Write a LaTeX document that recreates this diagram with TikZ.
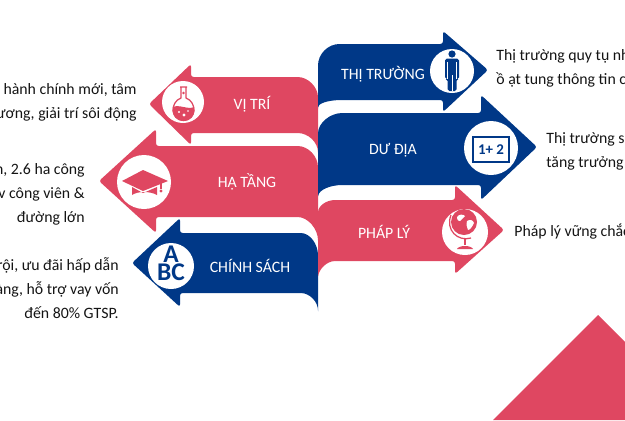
\documentclass[tikz,border=0pt]{standalone}
\usepackage{fontspec}
\setmainfont{Carlito}
\definecolor{rosered}{RGB}{223,71,97}
\definecolor{deepblue}{RGB}{0,56,135}
\tikzset{
  rosearrow/.style={fill=rosered,rounded corners=1.5pt},
  bluearrow/.style={fill=deepblue,rounded corners=1.5pt},
  caption/.style={text=white,font=\fontsize{9}{11}\selectfont,inner sep=0pt},
  bodytext/.style={text=black!92,font=\fontsize{9}{13.6}\selectfont,inner sep=0pt},
  iconletter/.style={text=deepblue,font=\bfseries\fontsize{14.5}{10.4}\selectfont,inner sep=0pt},
}
\begin{document}
\begin{tikzpicture}[x=0.02cm,y=-0.02cm]
  \useasboundingbox (0,0) rectangle (625,420);
  % corner triangle
  \fill[rosered] (598,315) -- (625,342) -- (625,420) -- (493,420) -- cycle;
  % arrows pointing left
  \fill[rosearrow] (318,155) .. controls (318,142) and (308,133) .. (295,133) -- (191,133) -- (191,145)
     -- (149,104) -- (191,64) -- (191,77) -- (295,77) .. controls (308,77) and (318,87) .. (318,100) -- cycle;
  \fill[rosearrow] (318,243) .. controls (318,229) and (308,217) .. (295,217) -- (156,217) -- (156,233)
     -- (99,181) -- (156,129) -- (156,146) -- (295,146) .. controls (308,146) and (318,156) .. (318,170) -- cycle;
  \fill[bluearrow] (318,313) .. controls (318,302) and (310,293) .. (298,293) -- (180,293) -- (180,307)
     -- (132,263) -- (180,218) -- (180,233) -- (298,233) .. controls (310,233) and (318,244) .. (318,258) -- cycle;
  % arrows pointing right
  \fill[bluearrow] (318,110) .. controls (318,104) and (326,100) .. (345,100) -- (443,100) -- (443,112)
     -- (488,70) -- (443,31) -- (443,44) -- (342,44) .. controls (328,44) and (318,54) .. (318,68) -- cycle;
  \fill[bluearrow] (318,198) .. controls (319,190) and (330,185) .. (345,185) -- (481,185) -- (481,200)
     -- (537,147) -- (481,95) -- (481,113) -- (345,113) .. controls (330,113) and (318,123) .. (318,136) -- cycle;
  \fill[rosearrow] (318,278) .. controls (319,270) and (326,261) .. (338,261) -- (455,261) -- (455,274)
     -- (504,230) -- (455,185) -- (455,200) -- (338,200) .. controls (326,200) and (318,206) .. (318,215) -- cycle;
  % white discs
  \fill[white] (183,102) circle[radius=21];
  \fill[white] (144,182) circle[radius=27];
  \fill[white] (171,266) circle[radius=23];
  \fill[white] (452,71) circle[radius=22];
  \fill[white] (491,148) circle[radius=27];
  \fill[white] (465,232) circle[radius=23];
  % flask
  \draw[rosered,line width=0.7pt] (180,87) -- (187,87) (181,87) -- (181,98)
     .. controls (170,102) and (170,120) .. (183.5,120.5) .. controls (197,120) and (197,102) .. (186,98) -- (186,87);
  \fill[rosered] (173,107) .. controls (179,104) and (188,110) .. (194,107)
     .. controls (196,114) and (191,121) .. (183.5,121) .. controls (176,121) and (171,114) .. (173,107) -- cycle;
  \fill[rosered] (183.5,93) circle[radius=1.3];
  \fill[white] (179,112) circle[radius=1.2] (184,115) circle[radius=1.6] (188,111) circle[radius=0.9];
  % graduation cap
  \fill[rosered] (122,181) -- (143,170) -- (168,181) -- (143,191) -- cycle;
  \fill[rosered] (132,187) -- (143,193) -- (157,187) -- (157,195) .. controls (150,191) and (138,191) .. (132,195) -- cycle;
  \draw[rosered,line width=0.6pt] (161,183) -- (161,189);
  \fill[rosered] (161,191) circle[radius=1.6];
  % abc letters
  \node[iconletter,align=center] (letters) at (171,263) {A\\BC};
  % person
  \fill[deepblue] (452,54) circle[radius=3.6];
  \fill[deepblue,rounded corners=1pt] (445,58.5) -- (459,58.5) -- (459,79) -- (456.5,79) -- (456.5,91) -- (447.5,91) -- (447.5,79) -- (445,79) -- cycle;
  \draw[white,line width=0.3pt] (452,75) -- (452,91) (447.6,62) -- (447.6,79) (456.4,62) -- (456.4,79);
  % number box
  \draw[deepblue,line width=1.1pt] (473,137) rectangle (509,162);
  \node[text=deepblue,font=\bfseries\fontsize{8.5}{10}\selectfont,inner sep=0pt] (sumtext) at (491,149.5) {1+ 2};
  % globe
  \fill[rosered] (464,222) circle[radius=13];
  \fill[white] (457,217) .. controls (459,214) and (463,214) .. (465,216) .. controls (463,219) and (461,219) .. (460,221)
     .. controls (459,222) and (457,220) .. (457,217) -- cycle;
  \fill[white] (467,221) .. controls (470,219) and (473,220) .. (474,223) .. controls (472,227) and (470,230) .. (468,230)
     .. controls (467,227) and (466,225) .. (467,221) -- cycle;
  \draw[rosered,line width=0.7pt] (451,215) .. controls (445,230) and (458,242) .. (471,238);
  \draw[rosered,line width=0.9pt] (465,239) -- (465,245);
  \fill[rosered] (457,249) .. controls (459,245) and (471,245) .. (473,249) -- cycle;
  % arrow captions
  \node[caption] (vitri) at (252,104) {VỊ TRÍ};
  \node[caption] (hatang) at (247,182) {HẠ TẦNG};
  \node[caption] (chinhsach) at (250,266) {CHÍNH SÁCH};
  \node[caption] (thitruong) at (383,74) {THỊ TRƯỜNG};
  \node[caption] (duadia) at (393,150) {DƯ ĐỊA};
  \node[caption] (phaply) at (384,232) {PHÁP LÝ};
  % text beside the arrows
  \node[bodytext,align=right,anchor=east] (textvitri) at (137,102) {hành chính mới, tâm\\ương, giải trí sôi động};
  \node[bodytext,align=right,anchor=east] (texthatang) at (85,194) {n, 2.6 ha công\\v công viên \&\\đường lớn};
  \node[bodytext,align=right,anchor=east] (textchinhsach) at (119,288) {rội, ưu đãi hấp dẫn\\àng, hỗ trợ vay vốn\\đến 80\% GTSP.};
  \node[bodytext,align=left,anchor=west] (textthitruong) at (496,68) {Thị trường quy tụ nh\\ồ ạt tung thông tin c};
  \node[bodytext,align=left,anchor=west] (textduadia) at (546,151) {Thị trường s\\tăng trưởng};
  \node[bodytext,anchor=west] (textphaply) at (514,232) {Pháp lý vững chắc};
\end{tikzpicture}
\end{document}
